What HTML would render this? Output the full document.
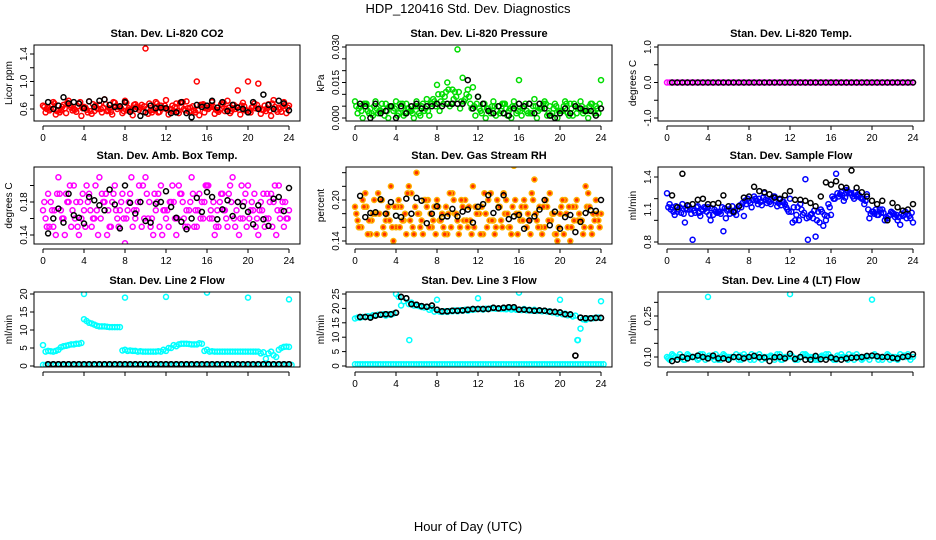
<!DOCTYPE html>
<html><head><meta charset="utf-8"><style>
html,body{margin:0;padding:0;background:#fff;}
svg{display:block;font-family:"Liberation Sans",sans-serif;}
</style></head><body>
<svg id="c" width="936" height="540" viewBox="0 0 936 540" xmlns="http://www.w3.org/2000/svg">
<text x="468" y="13" text-anchor="middle" font-size="13">HDP_120416  Std. Dev. Diagnostics</text>
<text x="468" y="531" text-anchor="middle" font-size="13">Hour of Day (UTC)</text>
</svg>
<script>
const co2Red1=[0.65,0.62,0.70,0.58,0.66,0.72,0.60,0.68,0.63,0.71,0.57,0.66,0.74,0.61,0.69,0.64,0.72,0.59,0.67,0.62,1.48,0.58,0.70,0.65,0.73,0.60,0.68,0.63,0.71,0.57,1.00,0.66,0.62,0.70,0.58,0.67,0.72,0.61,0.87,0.69,1.00,0.64,0.97,0.59,0.67,0.73,0.62,0.70,0.65];
const co2Red2=[0.55,0.60,0.52,0.58,0.54,0.62,0.56,0.50,0.59,0.53,0.61,0.55,0.57,0.52,0.60,0.54,0.58,0.51,0.62,0.56,0.53,0.59,0.55,0.61,0.52,0.57,0.54,0.60,0.56,0.58,0.51,0.55,0.62,0.53,0.59,0.57,0.54,0.60,0.52,0.58,0.55,0.61,0.53,0.57,0.50,0.59,0.56,0.54];
const co2Red3=[0.63,0.58,0.68,0.55,0.61,0.66,0.59,0.70,0.62,0.57,0.65,0.60,0.67,0.56,0.64,0.61,0.69,0.58,0.63,0.66,0.60,0.55,0.68,0.62,0.59,0.65,0.57,0.70,0.61,0.64,0.58,0.67,0.60,0.63,0.56,0.69,0.62,0.66,0.59,0.64,0.57,0.68,0.61,0.65,0.58,0.63,0.60,0.66];
const co2Red4=[0.60,0.66,0.57,0.63,0.69,0.58,0.64,0.61,0.55,0.67,0.60,0.62,0.58,0.70,0.63,0.57,0.61,0.66,0.59,0.64,0.68,0.62,0.56,0.65,0.60,0.63,0.69,0.58,0.62,0.55,0.66,0.61,0.64,0.59,0.67,0.60,0.57,0.63,0.65,0.58,0.62,0.66,0.59,0.61,0.68,0.56,0.64,0.62];
const co2Black=[0.70,0.60,0.65,0.77,0.68,0.70,0.68,0.61,0.71,0.63,0.72,0.74,0.66,0.63,0.64,0.70,0.56,0.60,0.50,0.55,0.65,0.61,0.62,0.61,0.54,0.55,0.70,0.54,0.48,0.66,0.63,0.65,0.72,0.62,0.70,0.57,0.66,0.62,0.60,0.55,0.70,0.60,0.81,0.66,0.60,0.72,0.68,0.58];
const presGreen1=[0.007,0.005,0.006,0.004,0.007,0.003,0.006,0.005,0.007,0.004,0.006,0.003,0.007,0.005,0.008,0.006,0.014,0.010,0.015,0.012,0.029,0.017,0.012,0.013,0.009,0.006,0.004,0.007,0.005,0.006,0.003,0.007,0.016,0.005,0.006,0.008,0.004,0.007,0.005,0.006,0.003,0.007,0.006,0.005,0.007,0.004,0.006,0.005,0.016];
const presGreen2=[0.002,0.000,0.003,0.001,0.002,0.004,0.000,0.003,0.002,0.001,0.004,0.000,0.002,0.003,0.001,0.007,0.003,0.009,0.005,0.011,0.004,0.008,0.006,0.001,0.003,0.000,0.002,0.001,0.003,0.004,0.000,0.002,0.001,0.003,0.002,0.000,0.004,0.001,0.002,0.000,0.003,0.002,0.001,0.004,0.002,0.000,0.003,0.002];
const presGreen3=[0.005,0.003,0.006,0.002,0.004,0.006,0.003,0.005,0.001,0.006,0.004,0.002,0.005,0.006,0.003,0.008,0.010,0.006,0.012,0.008,0.011,0.007,0.009,0.005,0.004,0.006,0.003,0.005,0.002,0.006,0.004,0.005,0.003,0.006,0.002,0.005,0.004,0.006,0.001,0.005,0.003,0.006,0.004,0.002,0.005,0.003,0.006,0.004];
const presGreen4=[0.004,0.006,0.002,0.005,0.003,0.001,0.005,0.004,0.006,0.002,0.003,0.005,0.001,0.004,0.006,0.005,0.007,0.011,0.006,0.009,0.007,0.010,0.004,0.006,0.002,0.004,0.005,0.003,0.006,0.001,0.005,0.003,0.004,0.002,0.005,0.003,0.006,0.002,0.004,0.003,0.005,0.001,0.006,0.004,0.003,0.005,0.002,0.006];
const presBlack=[0.006,0.005,0.000,0.006,0.002,0.003,0.005,0.000,0.005,0.002,0.005,0.006,0.004,0.005,0.005,0.006,0.005,0.006,0.006,0.006,0.006,0.016,0.004,0.009,0.006,0.003,0.002,0.005,0.002,0.001,0.004,0.006,0.005,0.006,0.002,0.006,0.004,0.001,0.000,0.002,0.004,0.002,0.005,0.004,0.003,0.003,0.001,0.004];
const tempMag1=[0,0,0,0,0,0,0,0,0,0,0,0,0,0,0,0,0,0,0,0,0,0,0,0,0,0,0,0,0,0,0,0,0,0,0,0,0,0,0,0,0,0,0,0,0,0,0,0,0];
const tempMag2=[0,0,0,0,0,0,0,0,0,0,0,0,0,0,0,0,0,0,0,0,0,0,0,0,0,0,0,0,0,0,0,0,0,0,0,0,0,0,0,0,0,0,0,0,0,0,0,0];
const tempBlack=[0,0,0,0,0,0,0,0,0,0,0,0,0,0,0,0,0,0,0,0,0,0,0,0,0,0,0,0,0,0,0,0,0,0,0,0,0,0,0,0,0,0,0,0,0,0,0,0];
const ambMag1=[0.17,0.19,0.15,0.21,0.16,0.18,0.20,0.14,0.17,0.19,0.16,0.21,0.18,0.15,0.20,0.17,0.13,0.19,0.16,0.18,0.21,0.15,0.17,0.20,0.16,0.18,0.14,0.19,0.17,0.21,0.15,0.18,0.20,0.16,0.17,0.19,0.15,0.21,0.18,0.16,0.20,0.17,0.14,0.19,0.16,0.18,0.20,0.15,0.17];
const ambMag2=[0.16,0.18,0.14,0.17,0.19,0.15,0.18,0.16,0.20,0.15,0.17,0.19,0.14,0.18,0.16,0.19,0.17,0.15,0.18,0.20,0.16,0.14,0.19,0.17,0.15,0.18,0.20,0.16,0.17,0.15,0.19,0.18,0.16,0.14,0.18,0.17,0.20,0.15,0.16,0.19,0.17,0.15,0.18,0.16,0.19,0.14,0.17,0.16];
const ambMag3=[0.18,0.15,0.17,0.19,0.14,0.20,0.16,0.18,0.15,0.17,0.20,0.16,0.19,0.15,0.17,0.18,0.16,0.21,0.17,0.15,0.19,0.16,0.18,0.14,0.17,0.20,0.16,0.18,0.15,0.19,0.17,0.16,0.20,0.18,0.15,0.17,0.19,0.16,0.14,0.18,0.16,0.19,0.17,0.15,0.18,0.20,0.16,0.18];
const ambMag4=[0.15,0.17,0.19,0.16,0.18,0.17,0.15,0.19,0.18,0.16,0.14,0.18,0.17,0.19,0.15,0.16,0.18,0.17,0.20,0.16,0.18,0.19,0.15,0.17,0.18,0.16,0.19,0.15,0.18,0.17,0.16,0.20,0.17,0.15,0.19,0.16,0.18,0.17,0.20,0.15,0.18,0.16,0.17,0.19,0.15,0.17,0.18,0.16];
const ambBlack=[0.142,0.160,0.172,0.155,0.190,0.164,0.161,0.154,0.186,0.182,0.176,0.170,0.195,0.177,0.148,0.200,0.179,0.166,0.180,0.157,0.155,0.178,0.180,0.193,0.174,0.161,0.156,0.147,0.160,0.185,0.168,0.192,0.186,0.159,0.171,0.182,0.163,0.180,0.175,0.168,0.153,0.176,0.159,0.151,0.184,0.186,0.169,0.197];
const rhOrange1=[0.19,0.16,0.21,0.15,0.18,0.20,0.17,0.22,0.16,0.19,0.15,0.21,0.24,0.17,0.19,0.16,0.20,0.18,0.15,0.21,0.17,0.19,0.16,0.22,0.18,0.15,0.20,0.17,0.19,0.21,0.16,0.25,0.18,0.20,0.17,0.23,0.19,0.16,0.21,0.15,0.18,0.20,0.14,0.19,0.17,0.22,0.16,0.20,0.18];
const rhOrange2=[0.17,0.20,0.15,0.18,0.21,0.16,0.19,0.14,0.20,0.17,0.22,0.15,0.18,0.20,0.16,0.19,0.17,0.15,0.21,0.18,0.16,0.20,0.17,0.19,0.15,0.18,0.21,0.16,0.17,0.20,0.15,0.18,0.19,0.16,0.21,0.17,0.15,0.19,0.18,0.14,0.20,0.16,0.19,0.17,0.15,0.21,0.18,0.17];
const rhOrange3=[0.18,0.16,0.19,0.17,0.15,0.20,0.18,0.16,0.19,0.17,0.21,0.16,0.18,0.15,0.20,0.17,0.19,0.16,0.18,0.20,0.15,0.17,0.19,0.16,0.18,0.21,0.17,0.15,0.19,0.18,0.16,0.20,0.17,0.19,0.15,0.18,0.16,0.20,0.17,0.15,0.19,0.18,0.16,0.20,0.17,0.19,0.15,0.18];
const rhOrange4=[0.16,0.19,0.17,0.20,0.18,0.15,0.17,0.19,0.16,0.18,0.17,0.19,0.16,0.20,0.18,0.15,0.17,0.19,0.16,0.18,0.20,0.17,0.15,0.18,0.19,0.16,0.17,0.20,0.16,0.18,0.19,0.15,0.17,0.18,0.20,0.16,0.19,0.17,0.18,0.16,0.15,0.19,0.17,0.18,0.16,0.19,0.17,0.16];
const rhBlack=[0.206,0.175,0.181,0.182,0.201,0.180,0.197,0.177,0.175,0.202,0.180,0.203,0.199,0.166,0.180,0.191,0.175,0.176,0.187,0.176,0.183,0.186,0.167,0.190,0.194,0.207,0.181,0.189,0.207,0.172,0.176,0.178,0.158,0.170,0.176,0.186,0.200,0.163,0.183,0.158,0.175,0.178,0.153,0.168,0.181,0.185,0.184,0.200];
const sfBlue1=[1.25,1.12,1.08,1.15,1.10,0.82,1.13,1.09,1.12,1.05,1.08,0.90,1.10,1.07,1.13,1.04,1.18,1.22,1.20,1.25,1.17,1.22,1.19,1.15,1.20,1.00,1.15,1.38,1.05,0.85,1.10,1.00,1.05,1.43,1.26,1.28,1.25,1.22,1.20,1.24,1.08,1.05,1.10,1.02,1.07,1.00,1.04,1.06,0.98];
const sfBlue2=[1.15,1.05,1.12,0.98,1.10,1.07,1.04,1.11,1.00,1.08,1.06,1.02,1.09,1.05,1.12,1.15,1.12,1.18,1.14,1.16,1.20,1.13,1.17,1.10,0.98,1.12,1.05,0.82,1.02,1.08,0.95,1.15,1.20,1.22,1.18,1.25,1.20,1.23,1.15,1.02,1.06,1.10,1.00,1.05,1.03,0.96,1.08,1.02];
const sfBlue3=[1.12,1.08,1.10,1.06,1.13,1.09,1.07,1.12,1.05,1.10,1.08,1.11,1.06,1.09,1.14,1.18,1.16,1.20,1.17,1.19,1.15,1.18,1.14,1.12,1.08,1.05,1.10,1.02,1.06,1.00,1.08,1.04,1.22,1.25,1.23,1.27,1.22,1.24,1.20,1.10,1.08,1.05,1.07,1.04,1.06,1.03,1.05,1.04];
const sfBlue4=[1.10,1.13,1.07,1.11,1.06,1.12,1.10,1.08,1.11,1.07,1.12,1.09,1.13,1.10,1.16,1.20,1.19,1.15,1.21,1.18,1.22,1.16,1.17,1.08,1.12,1.00,1.07,1.03,1.09,0.98,1.05,1.12,1.20,1.24,1.21,1.25,1.26,1.21,1.18,1.06,1.10,1.07,1.03,1.08,1.05,1.06,1.02,1.07];
const sfBlack=[1.23,1.12,1.43,1.14,1.15,1.19,1.20,1.15,1.15,1.16,1.23,1.13,1.08,1.13,1.21,1.22,1.31,1.27,1.26,1.24,1.21,1.20,1.23,1.27,1.19,1.19,1.18,1.16,1.13,1.22,1.35,1.33,1.36,1.31,1.30,1.46,1.30,1.26,1.22,1.18,1.15,1.18,1.00,1.16,1.12,1.09,1.10,1.15];
const l2Cyan1=[5.8,4.2,4.0,4.5,5.5,5.8,6.0,6.2,13.0,12.0,11.5,11.0,11.0,10.8,10.8,10.8,4.5,4.3,4.2,4.1,4.0,4.0,4.0,4.0,4.2,5.0,5.5,6.2,6.2,6.0,6.0,6.2,4.5,4.1,4.0,4.0,4.0,4.0,4.0,4.0,4.0,4.0,4.0,3.8,3.5,3.0,4.5,5.3,5.3];
const l2Cyan2=[4.0,4.1,4.2,5.2,5.6,6.0,6.2,6.4,12.5,11.8,11.2,11.0,10.9,10.8,10.8,4.3,4.2,4.2,4.0,4.0,4.0,4.0,4.1,4.5,5.0,5.8,6.0,6.2,6.1,6.0,6.3,4.2,4.0,4.0,4.0,4.0,4.0,4.0,4.0,4.0,4.0,4.0,3.5,2.0,4.0,2.5,5.0,5.4];
const l2CyanZero=[0.3,0.3,0.3,0.3,0.3,0.3,0.3,0.3,0.3,0.3,0.3,0.3,0.3,0.3,0.3,0.3,0.3,0.3,0.3,0.3,0.3,0.3,0.3,0.3,0.3,0.3,0.3,0.3,0.3,0.3,0.3,0.3,0.3,0.3,0.3,0.3,0.3,0.3,0.3,0.3,0.3,0.3,0.3,0.3,0.3,0.3,0.3,0.3,0.3];
const l2Black=[0.5,0.5,0.5,0.5,0.5,0.5,0.5,0.5,0.5,0.5,0.5,0.5,0.5,0.5,0.5,0.5,0.5,0.5,0.5,0.5,0.5,0.5,0.5,0.5,0.5,0.5,0.5,0.5,0.5,0.5,0.5,0.5,0.5,0.5,0.5,0.5,0.5,0.5,0.5,0.5,0.5,0.5,0.5,0.5,0.5,0.5,0.5,0.5];
const l2OutHours=[4,8,12,16,20,24];
const l2OutVals=[20,19,19.2,20.4,19,18.5];
const l3Cyan1=[16.5,16.8,17.0,17.2,17.5,17.8,17.5,17.8,25.0,21.0,23.5,22.0,21.0,20.5,20.5,20.0,23.0,18.8,18.8,19.0,19.0,19.2,19.2,19.5,23.5,19.6,19.8,20.0,20.0,19.8,20.0,19.8,25.5,19.8,19.5,19.5,19.3,19.2,19.0,18.8,23.0,18.2,17.8,17.5,13.0,16.0,16.5,16.8,22.5];
const l3Cyan2=[16.8,17.0,17.3,17.6,17.8,18.0,17.9,18.2,24.0,22.5,21.5,21.0,20.8,20.3,19.5,18.9,18.9,19.0,19.1,19.3,19.4,19.5,19.6,19.7,19.8,19.9,20.0,19.9,19.8,19.7,19.6,19.5,19.4,19.3,19.2,19.1,19.0,18.9,18.6,18.2,18.0,17.6,17.2,9.0,16.2,16.5,16.6,16.8];
const l3CyanZero=[0.6,0.6,0.6,0.6,0.6,0.6,0.6,0.6,0.6,0.6,0.6,0.6,0.6,0.6,0.6,0.6,0.6,0.6,0.6,0.6,0.6,0.6,0.6,0.6,0.6,0.6,0.6,0.6,0.6,0.6,0.6,0.6,0.6,0.6,0.6,0.6,0.6,0.6,0.6,0.6,0.6,0.6,0.6,0.6,0.6,0.6,0.6,0.6,0.6];
const l3Black=[17.0,17.0,16.8,17.5,17.8,18.0,18.0,18.5,24.0,23.5,21.5,21.3,20.8,20.6,21.0,19.5,19.0,19.0,19.2,19.2,19.3,19.5,19.8,19.8,19.8,19.8,20.2,20.0,20.2,20.4,20.4,19.6,19.6,19.4,19.2,19.3,19.2,18.9,18.8,18.6,18.0,17.9,3.6,16.8,16.6,16.6,16.7,16.7];
const l3OutHours=[5.3,21.7];
const l3OutVals=[9,9];
const l4Cyan1=[0.10,0.11,0.09,0.10,0.11,0.10,0.09,0.11,0.32,0.10,0.09,0.11,0.10,0.10,0.09,0.11,0.10,0.09,0.11,0.10,0.10,0.09,0.11,0.10,0.33,0.09,0.10,0.11,0.10,0.09,0.10,0.11,0.10,0.09,0.11,0.10,0.10,0.11,0.09,0.10,0.31,0.10,0.09,0.11,0.10,0.09,0.10,0.11,0.10];
const l4Cyan2=[0.09,0.10,0.11,0.09,0.10,0.10,0.11,0.09,0.10,0.11,0.09,0.10,0.10,0.11,0.09,0.10,0.11,0.10,0.09,0.10,0.10,0.11,0.09,0.10,0.10,0.09,0.11,0.10,0.10,0.09,0.10,0.11,0.09,0.10,0.10,0.11,0.09,0.10,0.10,0.09,0.11,0.10,0.10,0.09,0.10,0.11,0.10,0.09];
const l4Cyan3=[0.095,0.105,0.10,0.09,0.105,0.10,0.095,0.10,0.105,0.09,0.10,0.105,0.095,0.10,0.105,0.10,0.09,0.105,0.10,0.095,0.105,0.10,0.09,0.10,0.105,0.095,0.10,0.105,0.09,0.10,0.105,0.10,0.095,0.105,0.10,0.09,0.105,0.10,0.095,0.10,0.105,0.09,0.10,0.105,0.095,0.10,0.105,0.10];
const l4Black=[0.085,0.09,0.10,0.095,0.10,0.105,0.10,0.095,0.105,0.095,0.095,0.09,0.10,0.10,0.095,0.10,0.104,0.099,0.098,0.085,0.099,0.10,0.095,0.112,0.093,0.10,0.09,0.09,0.104,0.092,0.09,0.098,0.093,0.09,0.095,0.097,0.098,0.10,0.104,0.105,0.103,0.10,0.10,0.097,0.095,0.10,0.103,0.11];
const xTicks=[0,4,8,12,16,20,24];

const NS='http://www.w3.org/2000/svg';
const svg=document.getElementById('c');
function mk(tag,attrs,parent){const e=document.createElementNS(NS,tag);for(const k in attrs)e.setAttribute(k,attrs[k]);(parent||svg).appendChild(e);return e;}
const colX=[34,346,658], rowY=[45,167,292], rowH=[76,77,75], W=266;
const panels=[
 {t:'Stan. Dev. Li-820 CO2',yl:'Licor ppm',c:0,r:0,y1:[0.6,109],y2:[1.4,54],ticks:[0.6,0.8,1.0,1.2,1.4],labs:[[0.6,'0.6'],[1.0,'1.0'],[1.4,'1.4']],s:[[co2Red1,0,'#ff0000'],[co2Red2,0.25,'#ff0000'],[co2Red3,0.125,'#ff0000'],[co2Red4,0.375,'#ff0000'],[co2Black,0.5,'#000']],xl:true},
 {t:'Stan. Dev. Li-820 Pressure',yl:'kPa',c:1,r:0,y1:[0,118],y2:[0.03,47],ticks:[0,0.005,0.01,0.015,0.02,0.025,0.03],labs:[[0,'0.000'],[0.015,'0.015'],[0.03,'0.030']],s:[[presGreen1,0,'#00dd00'],[presGreen2,0.25,'#00dd00'],[presGreen3,0.125,'#00dd00'],[presGreen4,0.375,'#00dd00'],[presBlack,0.5,'#000']],xl:true},
 {t:'Stan. Dev. Li-820 Temp.',yl:'degrees C',c:2,r:0,y1:[-1,118],y2:[1,47],ticks:[-1,-0.5,0,0.5,1],labs:[[-1,'-1.0'],[0,'0.0'],[1,'1.0']],s:[[tempMag1,0,'#ff00ff'],[tempMag2,0.25,'#ff00ff'],[tempBlack,0.5,'#000']],xl:true},
 {t:'Stan. Dev. Amb. Box Temp.',yl:'degrees C',c:0,r:1,y1:[0.14,235],y2:[0.18,202],ticks:[0.14,0.16,0.18,0.20],labs:[[0.14,'0.14'],[0.18,'0.18']],s:[[ambMag1,0,'#ff00ff'],[ambMag2,0.25,'#ff00ff'],[ambMag3,0.125,'#ff00ff'],[ambMag4,0.375,'#ff00ff'],[ambBlack,0.5,'#000']],xl:true},
 {t:'Stan. Dev. Gas Stream RH',yl:'percent',c:1,r:1,y1:[0.14,241],y2:[0.20,200],ticks:[0.14,0.16,0.18,0.20,0.22,0.24],labs:[[0.14,'0.14'],[0.20,'0.20']],s:[[rhOrange1,0,'#ffb000','#ff3000'],[rhOrange2,0.25,'#ffb000','#ff3000'],[rhOrange3,0.125,'#ffb000','#ff3000'],[rhOrange4,0.375,'#ffb000','#ff3000'],[rhBlack,0.5,'#000']],xl:true},
 {t:'Stan. Dev. Sample Flow',yl:'ml/min',c:2,r:1,y1:[0.8,242],y2:[1.4,177],ticks:[0.8,1.0,1.2,1.4],labs:[[0.8,'0.8'],[1.1,'1.1'],[1.4,'1.4']],s:[[sfBlue1,0,'#0000ff'],[sfBlue2,0.25,'#0000ff'],[sfBlue3,0.125,'#0000ff'],[sfBlue4,0.375,'#0000ff'],[sfBlack,0.5,'#000']],xl:true},
 {t:'Stan. Dev. Line 2 Flow',yl:'ml/min',c:0,r:2,y1:[0,366],y2:[20,294],ticks:[0,5,10,15,20],labs:[[0,'0'],[5,'5'],[10,'10'],[15,'15'],[20,'20']],s:[[l2Cyan1,0,'#00ffff'],[l2Cyan2,0.25,'#00ffff'],[l2CyanZero,0,'#00ffff'],[l2CyanZero,0.25,'#00ffff'],[l2Black,0.5,'#000']],out:[l2OutHours,l2OutVals],xl:false},
 {t:'Stan. Dev. Line 3 Flow',yl:'ml/min',c:1,r:2,y1:[0,366],y2:[25,294],ticks:[0,5,10,15,20,25],labs:[[0,'0'],[5,'5'],[10,'10'],[15,'15'],[20,'20'],[25,'25']],s:[[l3Cyan1,0,'#00ffff'],[l3Cyan2,0.25,'#00ffff'],[l3CyanZero,0,'#00ffff'],[l3CyanZero,0.25,'#00ffff'],[l3Black,0.5,'#000']],out:[l3OutHours,l3OutVals],xl:true},
 {t:'Stan. Dev. Line 4 (LT) Flow',yl:'ml/min',c:2,r:2,y1:[0.10,357],y2:[0.25,316],ticks:[0.10,0.15,0.20,0.25,0.30],labs:[[0.10,'0.10'],[0.25,'0.25']],s:[[l4Cyan1,0,'#00ffff'],[l4Cyan2,0.25,'#00ffff'],[l4Cyan3,0.125,'#00ffff'],[l4Black,0.5,'#000']],xl:false}
];
panels.forEach((p,pi)=>{
 const x0=colX[p.c], y0=rowY[p.r], h=rowH[p.r];
 const g=mk('g',{});
 
 
 const xs=hr=>x0+9+hr*(246/24);
 const ys=v=>p.y1[1]+(v-p.y1[0])*(p.y2[1]-p.y1[1])/(p.y2[0]-p.y1[0]);
 const clip=mk('clipPath',{id:'cl'+pi},g);
 mk('rect',{x:x0,y:y0,width:W,height:h},clip);
 const pts=mk('g',{'clip-path':'url(#cl'+pi+')'},g);
 
 
 const draw=(hr,v,col,fill)=>{
   const c=mk('circle',{cx:xs(hr).toFixed(1),cy:ys(v).toFixed(1),r:2.5,fill:fill||'none',stroke:col,'stroke-width':1.5},pts);
   
   
 };
 p.s.forEach(s=>{s[0].forEach((v,i)=>draw(s[1]+i*0.5,v,s[2],s[3]));});
 if(p.out){p.out[0].forEach((hr,i)=>draw(hr,p.out[1][i],'#00ffff'));
   const b=p.s[p.s.length-1];b[0].forEach((v,i)=>draw(b[1]+i*0.5,v,'#000'));}
 const box=mk('rect',{x:x0,y:y0,width:W,height:h,fill:'none',stroke:'#000','stroke-width':1},g);
 
 
 const tt=mk('text',{x:x0+W/2,y:y0-8,'text-anchor':'middle','font-size':11,'font-weight':'bold'},g);
 tt.textContent=p.t;
 
 
 const yl=mk('text',{transform:`translate(${x0-22},${y0+h/2}) rotate(-90)`,'text-anchor':'middle','font-size':10},g);
 yl.textContent=p.yl;
 
 
 const ya=mk('g',{},g);
 
 
 p.ticks.forEach(v=>{const y=ys(v);mk('line',{x1:x0,x2:x0-4,y1:y,y2:y,stroke:'#000'},ya);});
 p.labs.forEach(l=>{const t=mk('text',{transform:`translate(${x0-7},${ys(l[0])}) rotate(-90)`,'text-anchor':'middle','font-size':10},ya);t.textContent=l[1];
   
   });
 const xa=mk('g',{},g);
 
 
 const ay=y0+h+5;
 mk('line',{x1:xs(0),x2:xs(24),y1:ay,y2:ay,stroke:'#000'},xa);
 xTicks.forEach(hr=>{mk('line',{x1:xs(hr),x2:xs(hr),y1:ay,y2:ay+4,stroke:'#000'},xa);
   if(p.xl){const t=mk('text',{x:xs(hr),y:ay+15,'text-anchor':'middle','font-size':10},xa);t.textContent=hr;
     
     }});
});
</script>
</body></html>
